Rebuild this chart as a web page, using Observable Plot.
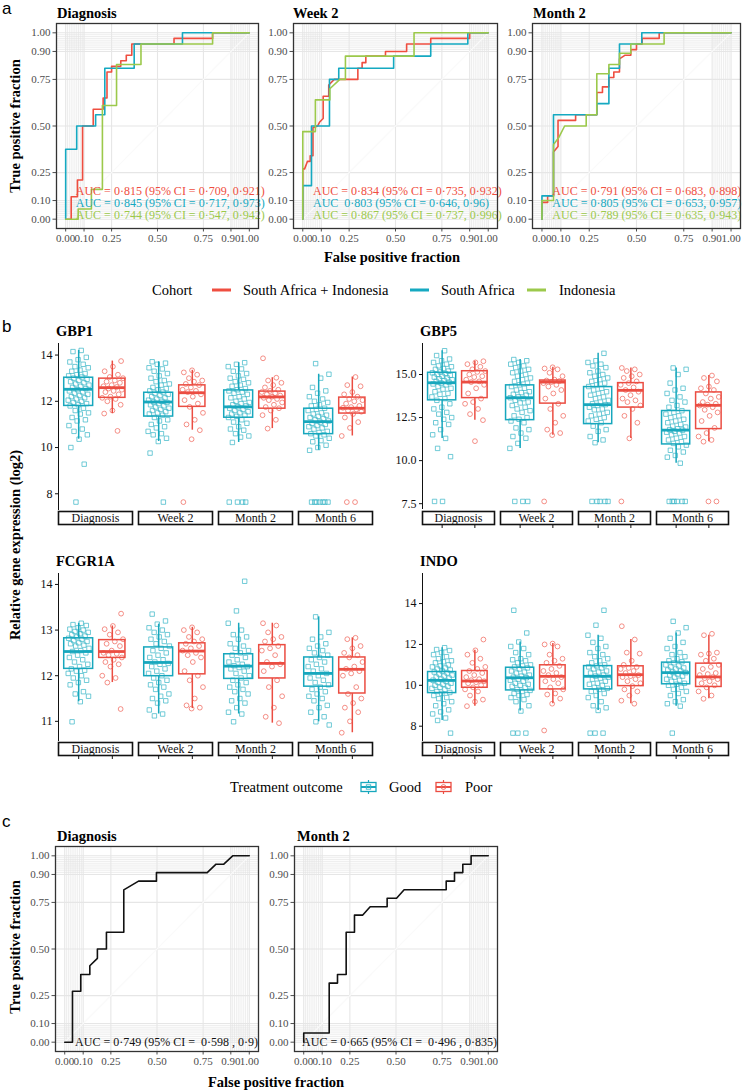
<!DOCTYPE html>
<html><head><meta charset="utf-8">
<script src="https://cdn.jsdelivr.net/npm/d3@7"></script>
<script src="https://cdn.jsdelivr.net/npm/@observablehq/plot@0.6"></script>
<style>
body{margin:0;background:#fff;}
#root{position:relative;width:744px;height:1092px;overflow:hidden;background:#fff;}
</style></head><body><div id="root"></div>
<script>
// ---------------- DATA ----------------
const cohorts = ["South Africa + Indonesia", "South Africa", "Indonesia"];
const timepointsA = ["Diagnosis", "Week 2", "Month 2"];
const rocBreaks = [0, 0.1, 0.25, 0.5, 0.75, 0.9, 1];
const rocMinor = [0.01,0.02,0.03,0.04,0.05,0.06,0.07,0.08,0.09,0.91,0.92,0.93,0.94,0.95,0.96,0.97,0.98,0.99];

// ROC vertices [false positive fraction, true positive fraction]
const diagSAI = [[0,0],[0.03,0],[0.03,0.12],[0.064,0.12],[0.064,0.21],[0.092,0.21],[0.092,0.5],[0.15,0.5],[0.15,0.59],[0.204,0.59],[0.204,0.65],[0.225,0.65],[0.225,0.79],[0.25,0.79],[0.25,0.82],[0.3,0.82],[0.3,0.85],[0.33,0.85],[0.33,0.88],[0.36,0.88],[0.36,0.94],[0.59,0.94],[0.59,0.97],[0.8,0.97],[0.8,1],[1,1]];
const diagSA = [[0,0],[0,0.375],[0.06,0.375],[0.06,0.5],[0.163,0.5],[0.163,0.56],[0.213,0.56],[0.213,0.81],[0.373,0.81],[0.373,0.94],[0.636,0.94],[0.636,1],[1,1]];
const diagIDN = [[0,0],[0.068,0],[0.068,0.055],[0.14,0.055],[0.14,0.16],[0.2,0.16],[0.2,0.61],[0.277,0.61],[0.277,0.83],[0.41,0.83],[0.41,0.94],[0.8,0.94],[0.8,1],[1,1]];
const wk2SAI = [[0,0],[0,0.27],[0.01,0.27],[0.025,0.31],[0.04,0.31],[0.04,0.34],[0.055,0.34],[0.055,0.49],[0.08,0.5],[0.09,0.52],[0.11,0.54],[0.11,0.66],[0.14,0.66],[0.14,0.72],[0.17,0.75],[0.297,0.75],[0.297,0.81],[0.32,0.81],[0.32,0.84],[0.34,0.84],[0.34,0.875],[0.446,0.875],[0.446,0.9],[0.56,0.9],[0.56,0.94],[0.69,0.94],[0.69,0.97],[0.9,0.97],[0.9,1],[1,1]];
const wk2SA = [[0,0],[0,0.18],[0.047,0.18],[0.047,0.5],[0.144,0.5],[0.144,0.75],[0.194,0.75],[0.194,0.81],[0.49,0.81],[0.49,0.875],[0.69,0.875],[0.69,0.94],[0.89,0.94],[0.89,1],[1,1]];
const wk2IDN = [[0,0],[0,0.47],[0.068,0.47],[0.068,0.64],[0.146,0.64],[0.146,0.7],[0.2,0.75],[0.23,0.75],[0.23,0.875],[0.6,0.875],[0.6,1],[1,1]];
const m2SAI = [[0,0],[0,0.09],[0.03,0.09],[0.03,0.125],[0.061,0.125],[0.061,0.36],[0.085,0.39],[0.085,0.53],[0.178,0.53],[0.178,0.56],[0.29,0.56],[0.29,0.68],[0.32,0.68],[0.32,0.71],[0.354,0.71],[0.354,0.76],[0.38,0.76],[0.38,0.79],[0.41,0.79],[0.41,0.86],[0.44,0.88],[0.47,0.88],[0.47,0.91],[0.5,0.91],[0.5,0.94],[0.53,0.94],[0.53,0.97],[0.62,0.97],[0.62,1],[1,1]];
const m2SA = [[0,0],[0,0.125],[0.061,0.125],[0.061,0.56],[0.29,0.56],[0.29,0.62],[0.354,0.62],[0.354,0.81],[0.41,0.81],[0.41,0.94],[0.528,0.94],[0.528,1],[1,1]];
const m2IDN = [[0,0],[0,0.1],[0.061,0.1],[0.061,0.4],[0.09,0.44],[0.12,0.5],[0.234,0.5],[0.234,0.56],[0.29,0.56],[0.29,0.78],[0.354,0.78],[0.354,0.83],[0.41,0.83],[0.41,0.89],[0.47,0.89],[0.47,0.94],[0.646,0.94],[0.646,1],[1,1]];

const aucDiag = ["AUC = 0·815 (95% CI = 0·709, 0·921)", "AUC = 0·845 (95% CI = 0·717, 0·973)", "AUC = 0·744 (95% CI = 0·547, 0·942)"];
const aucWk2 = ["AUC = 0·834 (95% CI = 0·735, 0·932)", "AUC  0·803 (95% CI = 0·646, 0·96)", "AUC = 0·867 (95% CI = 0·737, 0·996)"];
const aucM2 = ["AUC = 0·791 (95% CI = 0·683, 0·898)", "AUC = 0·805 (95% CI = 0·653, 0·957)", "AUC = 0·789 (95% CI = 0·635, 0·943)"];

const cTitles = ["Diagnosis", "Month 2"];
const cDiag = [[0,0],[0.042,0],[0.042,0.273],[0.087,0.273],[0.087,0.363],[0.136,0.363],[0.136,0.41],[0.177,0.45],[0.177,0.5],[0.226,0.5],[0.226,0.59],[0.32,0.59],[0.32,0.817],[0.4,0.864],[0.497,0.864],[0.497,0.91],[0.772,0.91],[0.82,0.955],[0.862,0.955],[0.91,1],[1,1]];
const cMonth2 = [[0,0],[0,0.049],[0.138,0.049],[0.138,0.317],[0.183,0.317],[0.183,0.363],[0.23,0.363],[0.23,0.59],[0.275,0.59],[0.275,0.682],[0.32,0.682],[0.36,0.727],[0.452,0.727],[0.452,0.772],[0.503,0.772],[0.544,0.818],[0.772,0.818],[0.772,0.864],[0.817,0.864],[0.817,0.91],[0.862,0.91],[0.862,0.955],[0.907,0.955],[0.907,1],[1,1]];
const aucC = ["AUC = 0·749 (95% CI =  0·598 , 0·9)", "AUC = 0·665 (95% CI =  0·496 , 0·835)"];

// Box plots: groups ordered Diagnosis Good, Diagnosis Poor, Week 2 Good, Week 2 Poor, Month 2 Good, Month 2 Poor, Month 6 Good, Month 6 Poor
const timepoints = ["Diagnosis", "Week 2", "Month 2", "Month 6"];
const outcomes = ["Good", "Poor"];
const genes = ["GBP1", "GBP5", "FCGR1A", "INDO"];
// [lower whisker, Q1, median, Q3, upper whisker]
const gbp1Stats = [[10.36,11.8,12.52,13.02,14.2],[11.47,12.15,12.59,12.98,13.74],[10.26,11.34,11.97,12.37,13.71],[10.75,11.76,12.37,12.69,13.34],[10.22,11.29,11.76,12.47,13.67],[10.82,11.68,12.19,12.42,13.02],[9.88,10.58,11.12,11.68,13.17],[10.5,11.47,11.7,12.16,13.05]];
const gbp5Stats = [[11.29,13.5,14.52,15.1,16.38],[12.35,13.63,14.56,15.19,15.77],[10.71,12.35,13.65,14.37,15.87],[11.48,13.31,14.56,14.65,15.42],[11.04,12.12,13.25,14.27,16.23],[11.29,13.08,14.08,14.5,15.38],[9.85,10.94,11.77,12.88,15.38],[11.1,11.83,13.21,13.96,14.94]];
const fcgrStats = [[11.43,12.15,12.53,12.82,13.15],[11.85,12.39,12.53,12.78,13.09],[11.16,11.99,12.29,12.62,13.13],[11.28,12.03,12.54,12.71,13.06],[11.16,11.93,12.21,12.47,13.15],[10.96,11.94,12.27,12.67,13.15],[10.99,11.76,12.05,12.4,13.29],[10.75,11.61,12.14,12.4,12.83]];
const indoStats = [[8.28,9.62,10.24,10.65,11.84],[8.98,9.88,10.21,10.7,11.71],[8.74,9.75,10.37,10.86,12.12],[9.1,9.8,10.44,10.98,12.04],[8.77,9.8,10.44,10.94,12.45],[9.1,9.96,10.52,10.93,12.24],[8.98,10.05,10.62,11.11,12.56],[9.34,9.92,10.41,11.06,12.45]];

const gbp1Points = [
 [14.2,14.15,13.9,13.8,13.7,13.6,13.5,13.45,13.35,13.3,13.2,13.15,13.1,13.05,13.0,12.95,12.9,12.85,12.8,12.75,12.7,12.65,12.6,12.55,12.5,12.45,12.4,12.35,12.3,12.25,12.2,12.15,12.1,12.05,12.0,11.95,11.9,11.85,11.8,11.7,11.6,11.5,11.45,11.3,11.2,11.15,10.95,10.8,10.7,10.55,10.36,10.0,9.28,7.64],
 [13.74,13.5,13.3,13.15,13.05,13.0,12.9,12.85,12.8,12.7,12.65,12.62,12.55,12.5,12.45,12.4,12.3,12.2,12.15,12.1,12.0,11.85,11.6,11.47,10.72],
 [13.71,13.65,13.6,13.45,13.4,13.3,13.2,13.1,13.0,12.9,12.85,12.75,12.7,12.6,12.55,12.5,12.45,12.4,12.35,12.3,12.25,12.2,12.15,12.1,12.05,12.0,11.97,11.95,11.9,11.85,11.8,11.75,11.7,11.65,11.6,11.55,11.5,11.45,11.4,11.3,11.2,11.15,11.0,10.9,10.85,10.7,10.6,10.55,10.4,10.26,9.76,7.64],
 [13.34,13.25,13.15,13.0,12.9,12.85,12.75,12.7,12.6,12.5,12.45,12.4,12.3,12.2,12.05,11.9,11.76,11.5,11.2,11.0,10.75,10.36,7.64],
 [13.67,13.6,13.5,13.4,13.3,13.2,13.1,13.0,12.95,12.85,12.8,12.7,12.65,12.55,12.5,12.45,12.4,12.35,12.3,12.2,12.15,12.1,12.0,11.95,11.9,11.85,11.8,11.76,11.7,11.65,11.6,11.55,11.5,11.45,11.4,11.35,11.3,11.2,11.1,11.05,10.9,10.8,10.75,10.6,10.5,10.45,10.22,7.64,7.64,7.64,7.64],
 [13.86,13.02,12.9,12.8,12.7,12.6,12.5,12.45,12.4,12.35,12.3,12.25,12.2,12.15,12.1,12.05,11.95,11.85,11.75,11.7,11.6,11.4,11.2,10.82],
 [13.63,13.17,13.0,12.6,12.45,12.35,12.2,12.1,12.0,11.95,11.85,11.8,11.7,11.65,11.6,11.5,11.45,11.4,11.35,11.3,11.25,11.2,11.15,11.1,11.05,11.0,10.95,10.9,10.85,10.8,10.7,10.65,10.6,10.55,10.5,10.4,10.3,10.25,10.1,10.0,9.88,7.64,7.64,7.64,7.64,7.64,7.64,7.64],
 [13.05,12.7,12.65,12.4,12.3,12.2,12.1,12.05,12.0,11.9,11.8,11.75,11.72,11.65,11.6,11.55,11.45,11.3,11.1,10.85,10.5,7.64,7.64]
];
const gbp5Points = [
 [16.38,16.1,15.9,15.8,15.7,15.6,15.5,15.45,15.35,15.3,15.2,15.15,15.1,15.05,15.0,14.95,14.9,14.85,14.8,14.75,14.7,14.65,14.6,14.55,14.5,14.45,14.4,14.3,14.2,14.15,14.0,13.9,13.85,13.7,13.6,13.5,13.3,13.1,13.0,12.8,12.7,12.5,12.4,12.2,12.1,11.8,11.5,11.29,10.71,10.23,7.63,7.63],
 [15.77,15.7,15.6,15.45,15.3,15.2,15.15,15.0,14.9,14.85,14.7,14.6,14.56,14.4,14.2,13.9,13.6,13.4,13.3,13.0,12.7,12.35,11.13],
 [15.87,15.8,15.7,15.6,15.5,15.4,15.3,15.2,15.1,15.0,14.9,14.8,14.7,14.6,14.5,14.4,14.3,14.2,14.1,14.0,13.95,13.85,13.8,13.7,13.65,13.6,13.5,13.4,13.35,13.2,13.1,13.0,12.9,12.8,12.6,12.5,12.4,12.3,12.2,11.9,11.8,11.6,11.4,11.3,11.0,10.71,7.63,7.63,7.63],
 [15.42,15.35,15.3,15.1,14.9,14.7,14.65,14.62,14.56,14.5,14.4,14.3,14.1,13.9,13.6,13.3,13.0,12.6,12.2,11.8,11.6,11.48,7.63],
 [16.23,15.8,15.7,15.6,15.5,15.4,15.2,15.1,15.0,14.9,14.8,14.7,14.6,14.5,14.4,14.3,14.2,14.1,14.0,13.9,13.8,13.7,13.6,13.5,13.4,13.3,13.25,13.2,13.1,13.0,12.95,12.8,12.7,12.6,12.5,12.4,12.3,12.2,12.0,11.8,11.7,11.4,11.2,11.04,7.63,7.63,7.63,7.63,7.63],
 [15.38,15.3,15.2,15.0,14.9,14.8,14.6,14.5,14.4,14.25,14.1,14.0,13.8,13.6,13.5,13.4,13.2,13.0,12.6,12.2,11.29,7.63],
 [15.38,15.3,15.0,14.5,14.2,14.1,13.9,13.7,13.5,13.4,13.2,13.1,12.9,12.8,12.7,12.6,12.5,12.4,12.3,12.2,12.1,12.0,11.95,11.85,11.8,11.77,11.7,11.65,11.6,11.5,11.4,11.3,11.2,11.1,11.0,10.9,10.8,10.6,10.5,10.3,10.2,9.85,7.63,7.63,7.63,7.63,7.63,7.63],
 [14.94,14.8,14.6,14.3,14.2,14.1,13.9,13.7,13.6,13.4,13.3,13.25,13.2,13.1,12.95,12.8,12.6,12.3,11.9,11.6,11.4,11.2,11.1,7.63,7.63]
];
const fcgrPoints = [
 [13.15,13.12,13.1,13.05,13.02,13.0,12.97,12.95,12.92,12.9,12.87,12.85,12.82,12.8,12.77,12.75,12.72,12.7,12.67,12.65,12.6,12.55,12.53,12.5,12.45,12.4,12.35,12.3,12.25,12.2,12.15,12.12,12.1,12.05,12.0,11.95,11.9,11.85,11.8,11.65,11.6,11.55,11.43,10.99],
 [13.36,13.09,13.02,12.95,12.9,12.8,12.75,12.7,12.65,12.55,12.5,12.48,12.45,12.4,12.35,12.3,12.25,12.2,12.0,11.95,11.85,11.27],
 [13.35,13.2,13.13,13.05,13.0,12.95,12.9,12.85,12.8,12.75,12.7,12.65,12.6,12.55,12.5,12.45,12.4,12.35,12.3,12.27,12.25,12.2,12.15,12.1,12.05,12.0,11.95,11.9,11.85,11.8,11.75,11.7,11.6,11.55,11.5,11.45,11.4,11.25,11.16,11.12],
 [13.06,13.0,12.95,12.85,12.8,12.75,12.7,12.65,12.6,12.55,12.5,12.45,12.4,12.3,12.1,12.0,11.9,11.75,11.5,11.35,11.3,11.28],
 [14.07,13.42,13.15,13.0,12.9,12.85,12.8,12.7,12.65,12.6,12.55,12.5,12.45,12.4,12.35,12.3,12.25,12.22,12.2,12.18,12.15,12.1,12.05,12.0,11.95,11.9,11.85,11.8,11.75,11.7,11.65,11.6,11.5,11.45,11.4,11.3,11.2,11.16,10.99],
 [13.15,13.1,12.95,12.85,12.8,12.75,12.65,12.6,12.55,12.45,12.3,12.25,12.2,12.1,11.9,11.75,11.55,11.3,11.1,10.96],
 [13.29,12.95,12.85,12.8,12.7,12.65,12.6,12.55,12.5,12.45,12.4,12.35,12.3,12.25,12.2,12.15,12.1,12.05,12.0,11.95,11.9,11.85,11.8,11.75,11.7,11.65,11.6,11.55,11.5,11.45,11.35,11.3,11.2,11.1,10.99,10.92],
 [12.83,12.8,12.65,12.6,12.5,12.45,12.4,12.3,12.2,12.15,12.1,12.05,12.0,11.75,11.6,11.5,11.4,11.3,11.2,11.0,10.75]
];
const indoPoints = [
 [11.84,11.75,11.7,11.6,11.5,11.4,11.3,11.2,11.15,11.1,11.0,10.95,10.9,10.85,10.8,10.75,10.7,10.65,10.6,10.55,10.5,10.45,10.4,10.35,10.3,10.25,10.2,10.15,10.1,10.05,10.0,9.95,9.9,9.85,9.8,9.7,9.65,9.6,9.5,9.4,9.35,9.2,9.1,9.0,8.8,8.7,8.6,8.4,8.28,7.66],
 [12.24,11.71,11.5,11.3,11.1,10.9,10.8,10.7,10.6,10.5,10.4,10.3,10.25,10.2,10.15,10.1,10.0,9.9,9.8,9.7,9.5,9.3,9.2,8.98],
 [13.67,12.56,12.12,11.9,11.8,11.6,11.5,11.3,11.25,11.2,11.1,11.0,10.95,10.9,10.85,10.8,10.7,10.65,10.6,10.5,10.45,10.4,10.37,10.3,10.25,10.2,10.1,10.05,10.0,9.95,9.9,9.8,9.75,9.7,9.6,9.55,9.5,9.4,9.3,9.2,9.0,8.74,7.66,7.66,7.66],
 [12.04,12.0,11.9,11.5,11.3,11.2,11.1,10.95,10.8,10.7,10.6,10.5,10.4,10.3,10.2,10.1,9.9,9.8,9.6,9.55,9.35,9.1,7.79],
 [13.67,12.94,12.45,12.3,12.1,11.9,11.8,11.6,11.5,11.4,11.3,11.2,11.1,11.0,10.95,10.9,10.85,10.8,10.7,10.65,10.6,10.5,10.45,10.4,10.35,10.3,10.2,10.1,10.05,10.0,9.9,9.85,9.8,9.7,9.6,9.5,9.4,9.2,9.0,8.9,8.77,7.66,7.66,7.66],
 [12.89,12.24,11.6,11.55,11.2,11.0,10.9,10.85,10.8,10.7,10.6,10.5,10.45,10.4,10.3,10.2,10.1,9.96,9.8,9.7,9.5,9.25,9.1],
 [13.13,12.82,12.56,12.3,12.1,11.9,11.8,11.6,11.5,11.4,11.3,11.2,11.15,11.1,11.0,10.95,10.9,10.85,10.8,10.75,10.7,10.65,10.62,10.55,10.5,10.45,10.4,10.3,10.25,10.2,10.1,10.05,10.0,9.9,9.8,9.7,9.6,9.5,9.3,9.2,9.1,8.98,7.66],
 [12.52,12.45,11.6,11.55,11.5,11.3,11.2,11.0,10.9,10.8,10.6,10.55,10.5,10.4,10.35,10.3,10.2,10.1,10.0,9.9,9.7,9.5,9.34]
];
const gbp1Ticks = [8, 10, 12, 14];
const gbp5Ticks = [7.5, 10, 12.5, 15];
const fcgrTicks = [11, 12, 13, 14];
const indoTicks = [8, 10, 12, 14];

// ---------------- STYLE ----------------
const FONT = "'Liberation Serif','Times New Roman',serif";
const cohortColors = ["#EF4E40", "#15A9C1", "#9CC94B"];
const goodColor = "#17A7BD", poorColor = "#EB4D42";
const goodPt = "#3BB6C7", poorPt = "#EF6459";
const root = document.getElementById("root");

function place(node, left, top) {
  const div = document.createElement("div");
  div.style.cssText = `position:absolute;left:${left}px;top:${top}px;`;
  div.appendChild(node);
  root.appendChild(div);
}
const svgStyle = (size, color) => `background:transparent;overflow:visible;font-family:${FONT};font-size:${size}px;color:${color};max-width:none;`;

// ---------------- ROC PANELS ----------------
function rocPlot(curves, colors, labels, opt) {
  const ml = 40, mr = 18, mt = 4, mb = 24;
  const marks = [
    Plot.ruleX(rocMinor, {stroke: "#e3e3e3", strokeWidth: 0.6}),
    Plot.ruleY(rocMinor, {stroke: "#e3e3e3", strokeWidth: 0.6}),
    Plot.ruleX(rocBreaks, {stroke: "#e6e6e6", strokeWidth: 1.1}),
    Plot.ruleY(rocBreaks, {stroke: "#e6e6e6", strokeWidth: 1.1}),
    Plot.line([[0, 0], [1, 1]], {stroke: "#fafafa", strokeWidth: 1.2})
  ];
  curves.forEach((c, k) => marks.push(Plot.line(c, {stroke: colors[k], strokeWidth: 1.6})));
  labels.forEach((s, k) => marks.push(Plot.text([s], {x: opt.labelX, y: opt.labelY[k], text: d => d, fill: colors[k], fontSize: 12, textAnchor: opt.anchor})));
  marks.push(Plot.frame({stroke: "#333", strokeWidth: 1.3}));
  return Plot.plot({
    width: ml + opt.W + mr, height: mt + opt.H + mb,
    marginLeft: ml, marginRight: mr, marginTop: mt, marginBottom: mb,
    style: svgStyle(11, "#4d4d4d"),
    x: {domain: [-0.05, 1.05], ticks: rocBreaks, tickFormat: d3.format(".2f"), tickSize: 3.5, tickPadding: 2, label: null},
    y: {domain: [-0.05, 1.05], ticks: rocBreaks, tickFormat: d3.format(".2f"), tickSize: 3.5, tickPadding: 2.5, label: null},
    marks
  });
}
const aOpt = {H: 205, labelX: 0.055, labelY: [0.153, 0.088, 0.023], anchor: "start"};
place(rocPlot([diagSAI, diagSA, diagIDN], cohortColors, aucDiag, {...aOpt, W: 202}), 16, 19);
place(rocPlot([wk2SAI, wk2SA, wk2IDN], cohortColors, aucWk2, {...aOpt, W: 204}), 253, 19);
place(rocPlot([m2SAI, m2SA, m2IDN], cohortColors, aucM2, {...aOpt, W: 208}), 492, 19);

const cOpt = {H: 205, W: 203, labelX: 1.047, labelY: [0.0], anchor: "end"};
place(rocPlot([cDiag], ["#111"], [aucC[0]], cOpt), 15, 842);
place(rocPlot([cMonth2], ["#111"], [aucC[1]], cOpt), 254, 842);

// ---------------- BOX PANELS ----------------
const PAD = 0.075;
function boxPlot(stats, points, opt) {
  const ml = 32, mr = 2, mt = 6, mb = 2;
  const boxes = stats.map((s, k) => ({t: timepoints[k >> 1], o: outcomes[k & 1], x: (k & 1) + 1,
    hw: (k & 1) ? 0.39 : 0.43, wlo: s[0], q1: s[1], med: s[2], q3: s[3], whi: s[4]}));
  const pts = [];
  points.forEach((arr, k) => arr.forEach((v, i) => pts.push({
    t: timepoints[k >> 1], o: outcomes[k & 1],
    x: (k & 1) + 1 + ((((i + 1) * 0.6180339887 + k * 0.29) % 1) - 0.5) * 0.64, v})));
  const good = pts.filter(d => d.o === "Good"), poor = pts.filter(d => d.o === "Poor");
  const bx = o => boxes.filter(d => d.o === o);
  const boxMarks = (o, col) => [
    Plot.ruleX(bx(o), {fx: "t", x: "x", y1: "wlo", y2: "q1", stroke: col, strokeWidth: 1.5}),
    Plot.ruleX(bx(o), {fx: "t", x: "x", y1: "q3", y2: "whi", stroke: col, strokeWidth: 1.5}),
    Plot.rect(bx(o), {fx: "t", x1: d => d.x - d.hw, x2: d => d.x + d.hw, y1: "q1", y2: "q3", fill: "none", stroke: col, strokeWidth: 1.5}),
    Plot.ruleY(bx(o), {fx: "t", x1: d => d.x - d.hw, x2: d => d.x + d.hw, y: "med", stroke: col, strokeWidth: 2.8})
  ];
  return Plot.plot({
    width: ml + opt.W + mr, height: mt + opt.H + mb,
    marginLeft: ml, marginRight: mr, marginTop: mt, marginBottom: mb,
    style: svgStyle(12, "#111"),
    fx: {domain: timepoints, paddingInner: PAD, paddingOuter: 0, axis: null, label: null},
    x: {domain: [0.4, 2.6], axis: null},
    y: {domain: opt.yDomain, ticks: opt.ticks, tickFormat: opt.fmt, tickSize: 3, tickPadding: 3, line: true, label: null},
    marks: [
      Plot.dot(good, {fx: "t", x: "x", y: "v", symbol: "square", r: 2.5, stroke: goodPt, strokeWidth: 0.9, strokeOpacity: 0.8, fill: "none"}),
      Plot.dot(poor, {fx: "t", x: "x", y: "v", symbol: "circle", r: 2.4, stroke: poorPt, strokeWidth: 0.9, strokeOpacity: 0.8, fill: "none"}),
      ...boxMarks("Good", goodColor),
      ...boxMarks("Poor", poorColor)
    ]
  });
}
function stripPlot(opt) {
  const ml = 32, mr = 2, mt = 1, mb = 6;
  return Plot.plot({
    width: ml + opt.W + mr, height: mt + 13 + mb,
    marginLeft: ml, marginRight: mr, marginTop: mt, marginBottom: mb,
    style: svgStyle(12, "#111"),
    fx: {domain: timepoints, paddingInner: PAD, paddingOuter: 0, axis: null, label: null},
    x: {domain: [0.4, 2.6], ticks: opt.ticks ? [1, 2] : [], tickSize: opt.ticks ? 4 : 0, tickFormat: () => "", label: null},
    marks: [
      Plot.tickX([1, 2], {x: d => d, strokeOpacity: 0}),
      Plot.frame({stroke: "#111", strokeWidth: 1.6}),
      Plot.text(timepoints, {fx: d => d, text: d => d, frameAnchor: "middle", fontSize: 12, fill: "#111"})
    ]
  });
}
place(boxPlot(gbp1Stats, gbp1Points, {W: 315, H: 166, yDomain: [7.32, 14.5], ticks: gbp1Ticks, fmt: d3.format("d")}), 24.5, 337);
place(stripPlot({W: 315, ticks: false}), 24.5, 510);
place(boxPlot(gbp5Stats, gbp5Points, {W: 309, H: 165, yDomain: [7.22, 16.8], ticks: gbp5Ticks, fmt: d3.format(".1f")}), 389, 337);
place(stripPlot({W: 309, ticks: true}), 389, 510);
place(boxPlot(fcgrStats, fcgrPoints, {W: 315, H: 167, yDomain: [10.58, 14.24], ticks: fcgrTicks, fmt: d3.format("d")}), 24.5, 567);
place(stripPlot({W: 315, ticks: true}), 24.5, 741);
place(boxPlot(indoStats, indoPoints, {W: 309, H: 167, yDomain: [7.3, 15.47], ticks: indoTicks, fmt: d3.format("d")}), 389, 567);
place(stripPlot({W: 309, ticks: true}), 389, 741);

// ---------------- TEXT & LEGENDS (overlay) ----------------
const overlay = d3.select(root).append("svg")
  .attr("width", 744).attr("height", 1092)
  .style("position", "absolute").style("left", 0).style("top", 0).style("pointer-events", "none");
function txt(s, x, y, o = {}) {
  const t = overlay.append("text").attr("x", x).attr("y", y).text(s)
    .attr("font-size", o.size || 14.5).attr("font-family", o.family || FONT)
    .attr("font-weight", o.bold ? "bold" : null)
    .attr("text-anchor", o.anchor || "start").attr("fill", o.color || "#000");
  if (o.rotate) t.attr("transform", `rotate(-90 ${x} ${y})`);
  return t;
}
const SANS = "'Liberation Sans',Arial,sans-serif";
// panel a
txt("a", 2, 14, {size: 17, family: SANS});
txt(timepointsA[0], 57, 17.5, {bold: true});
txt(timepointsA[1], 293, 17.5, {bold: true});
txt(timepointsA[2], 533, 17.5, {bold: true});
txt("True positive fraction", 20, 126, {bold: true, rotate: true, anchor: "middle"});
txt("False positive fraction", 392, 262, {bold: true, anchor: "middle"});
txt("Cohort", 152, 294.5, {size: 14.5});
const keyA = [212, 410, 527], labA = [243, 441, 559];
cohorts.forEach((c, k) => {
  overlay.append("line").attr("x1", keyA[k]).attr("x2", keyA[k] + 19).attr("y1", 290).attr("y2", 290)
    .attr("stroke", cohortColors[k]).attr("stroke-width", 3);
  txt(c, labA[k], 294.5, {size: 14.5});
});
// panel b
txt("b", 2, 332, {size: 17, family: SANS});
txt(genes[0], 56, 336, {bold: true});
txt(genes[1], 420, 336, {bold: true});
txt(genes[2], 56, 566, {bold: true});
txt(genes[3], 420, 566, {bold: true});
txt("Relative gene expression (log2)", 20, 545, {bold: true, rotate: true, anchor: "middle"});
txt("Treatment outcome", 230, 791.5, {size: 14.5});
const keyB = [361, 436], labB = [389, 465], colB = [goodColor, poorColor];
outcomes.forEach((o, k) => {
  const x = keyB[k], g = overlay.append("g");
  g.append("line").attr("x1", x + 7.5).attr("x2", x + 7.5).attr("y1", 780).attr("y2", 794).attr("stroke", colB[k]).attr("stroke-width", 1.2);
  g.append("rect").attr("x", x).attr("y", 782.5).attr("width", 15).attr("height", 9).attr("fill", "#fff").attr("stroke", colB[k]).attr("stroke-width", 1.3);
  g.append("line").attr("x1", x).attr("x2", x + 15).attr("y1", 787).attr("y2", 787).attr("stroke", colB[k]).attr("stroke-width", 2);
  if (k === 0) g.append("rect").attr("x", x + 5.3).attr("y", 784.8).attr("width", 4.4).attr("height", 4.4).attr("fill", "none").attr("stroke", goodPt).attr("stroke-width", 0.9);
  else g.append("circle").attr("cx", x + 7.5).attr("cy", 787).attr("r", 2.4).attr("fill", "none").attr("stroke", poorPt).attr("stroke-width", 0.9);
  txt(o, labB[k], 791.5, {size: 14.5});
});
// panel c
txt("c", 2, 827, {size: 17, family: SANS});
txt(cTitles[0], 57, 841, {bold: true});
txt(cTitles[1], 297, 841, {bold: true});
txt("True positive fraction", 20, 947, {bold: true, rotate: true, anchor: "middle"});
txt("False positive fraction", 276, 1086.5, {bold: true, anchor: "middle"});
</script></body></html>
